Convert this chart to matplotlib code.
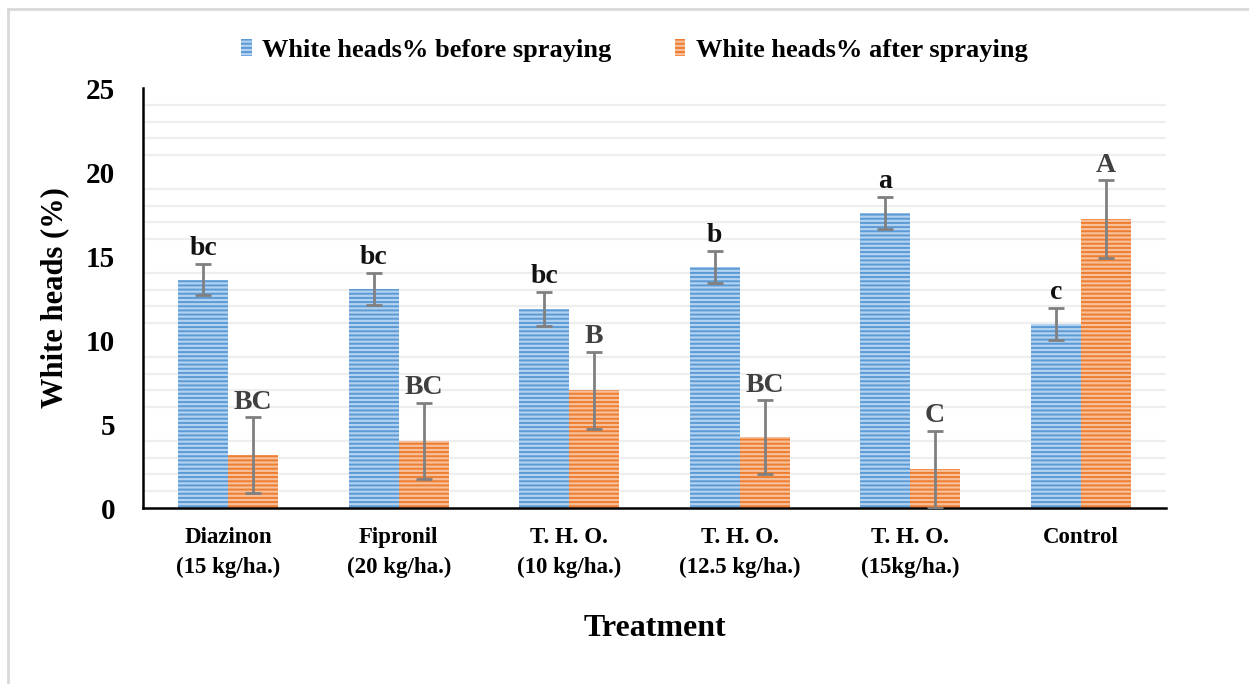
import matplotlib
matplotlib.use("Agg")
import matplotlib.pyplot as plt
import numpy as np
from matplotlib.patches import Patch
from matplotlib.lines import Line2D

categories = ["Diazinon\n(15 kg/ha.)", "Fipronil\n(20 kg/ha.)", "T. H. O.\n(10 kg/ha.)",
              "T. H. O.\n(12.5 kg/ha.)", "T. H. O.\n(15kg/ha.)", "Control"]
before = [13.6, 13.05, 11.85, 14.35, 17.55, 10.95]
before_err = [0.95, 0.95, 1.0, 0.95, 0.95, 0.95]
after = [3.15, 4.0, 7.0, 4.2, 2.3, 17.2]
after_err = [2.25, 2.27, 2.3, 2.2, 2.3, 2.3]
before_letters = ["bc", "bc", "bc", "b", "a", "c"]
after_letters = ["BC", "BC", "B", "BC", "C", "A"]
legend_labels = ["White heads% before spraying", "White heads% after spraying"]

plt.rcParams['font.family'] = ['Liberation Serif', 'DejaVu Serif']
plt.rcParams['font.weight'] = 'bold'
plt.rcParams['hatch.linewidth'] = 1.4

fig = plt.figure(figsize=(12.49, 6.84), dpi=100)
fig.patch.set_facecolor('white')
ax = fig.add_axes([0.1145, 0.2573, 0.819, 0.614])

x = np.arange(len(categories))
w = 0.293
blue_face, blue_hatch = '#B3D1F0', '#5B9BD5'
orange_face, orange_hatch = '#F8C09A', '#ED7D31'

ax.bar(x - w/2, before, w, color=blue_face, edgecolor=blue_hatch, hatch='----', linewidth=0, zorder=2)
ax.bar(x + w/2, after, w, color=orange_face, edgecolor=orange_hatch, hatch='----', linewidth=0, zorder=2)
ax.errorbar(x - w/2, before, yerr=before_err, fmt='none', ecolor='#808080', elinewidth=2, capsize=6, capthick=2, zorder=3)
ax.errorbar(x + w/2, after, yerr=after_err, fmt='none', ecolor='#808080', elinewidth=2, capsize=6, capthick=2, zorder=3)

for i in range(len(categories)):
    ax.annotate(before_letters[i], (x[i] - w/2, before[i] + before_err[i]), xytext=(0, 2),
                textcoords='offset points', ha='center', va='bottom', fontsize=20,
                fontweight='bold', color='#111111', zorder=4)
    ax.annotate(after_letters[i], (x[i] + w/2, after[i] + after_err[i]), xytext=(0, 2),
                textcoords='offset points', ha='center', va='bottom', fontsize=20,
                fontweight='bold', color='#404040', zorder=4)

ax.set_xlim(-0.5, len(categories) - 0.5)
ax.set_ylim(0, 25)
ax.set_yticks([0, 5, 10, 15, 20, 25])
ax.set_xticks(x)
ax.set_xticklabels(categories, fontsize=16.5, fontweight='bold', linespacing=1.5)
for lab in ax.get_yticklabels():
    lab.set_fontsize(21)
    lab.set_fontweight('bold')
ax.tick_params(axis='both', length=0)
ax.tick_params(axis='y', pad=20)
ax.tick_params(axis='x', pad=14)

grid_levels = [v for v in range(1, 25) if v % 5 != 0]
for g in grid_levels:
    ax.axhline(g, color='#EEEEEE', linewidth=1.6, zorder=1)

for s in ['top', 'right']:
    ax.spines[s].set_visible(False)
ax.spines['left'].set_linewidth(1.8)
ax.spines['bottom'].set_linewidth(1.8)
ax.spines['left'].set_color('black')
ax.spines['bottom'].set_color('black')

ax.set_ylabel("White heads (%)", fontsize=22, fontweight='bold', labelpad=12)
ax.set_xlabel("Treatment", fontsize=23, fontweight='bold', labelpad=26)

handles = [Patch(facecolor=blue_face, edgecolor=blue_hatch, hatch='----', linewidth=0),
           Patch(facecolor=orange_face, edgecolor=orange_hatch, hatch='----', linewidth=0)]
leg = fig.legend(handles, legend_labels, loc='center', bbox_to_anchor=(0.508, 0.926), ncol=2,
                 frameon=False, handlelength=0.4, handleheight=0.6,
                 handletextpad=0.4, columnspacing=2.4,
                 prop={'weight': 'bold', 'size': 19})

# figure border (left and top)
fig.add_artist(Line2D([8/1249, 8/1249], [0, 1 - 9/684], transform=fig.transFigure, color='#D9D9D9', linewidth=2))
fig.add_artist(Line2D([8/1249, 1], [1 - 9/684, 1 - 9/684], transform=fig.transFigure, color='#D9D9D9', linewidth=2))

fig.savefig("out.png", dpi=100, facecolor='white')
